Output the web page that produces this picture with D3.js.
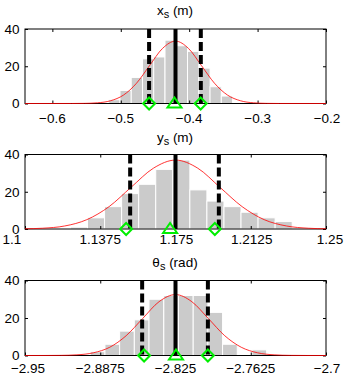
<!DOCTYPE html>
<html><head><meta charset="utf-8">
<script src="https://cdn.jsdelivr.net/npm/d3@7"></script>
<style>
html,body{margin:0;padding:0;background:#fff;}
svg{display:block;font-family:"Liberation Sans",Arial,Helvetica,sans-serif;}
</style></head>
<body><svg id="chart" width="345" height="378"></svg>
<script>
// ---------- data ----------
// panel 1: x_s (m)
const xsDomain = [-0.64, -0.2];
const xsTicks = [-0.6, -0.5, -0.4, -0.3, -0.2];
const xsTickLabels = ["−0.6", "−0.5", "−0.4", "−0.3", "−0.2"];
const xsBinCenters = [-0.5094, -0.4929, -0.4765, -0.4600, -0.4436, -0.4271, -0.4106, -0.3942, -0.3777, -0.3613, -0.3448];
const xsBinWidth = 0.01646;
const xsCounts = [2, 7, 14, 24, 25, 34, 31, 28, 19, 9, 4];
const xsCurveX = [-0.64, -0.572, -0.553, -0.534, -0.515, -0.496, -0.477, -0.458, -0.439, -0.42, -0.401, -0.382, -0.363, -0.344, -0.325, -0.306, -0.287, -0.268, -0.2];
const xsCurveY = [0, 0.01, 0.07, 0.37, 1.47, 4.53, 10.88, 20.32, 29.56, 33.5, 29.56, 20.32, 10.88, 4.53, 1.47, 0.37, 0.07, 0.01, 0];
const xsMean = -0.42;
const xsBounds = [-0.4586, -0.383];
const xsEstMean = -0.4215;
const xsEstBounds = [-0.4586, -0.3832];

// panel 2: y_s (m)
const ysDomain = [1.1, 1.25];
const ysTicks = [1.1, 1.1375, 1.175, 1.2125, 1.25];
const ysTickLabels = ["1.1", "1.1375", "1.175", "1.2125", "1.25"];
const ysBinCenters = [1.1269, 1.1354, 1.1439, 1.1524, 1.1609, 1.1694, 1.1779, 1.1864, 1.1949, 1.2034, 1.2119, 1.2204, 1.2289];
const ysBinWidth = 0.0085;
const ysCounts = [1, 6, 12, 19, 24, 32, 37, 21, 15, 12, 9, 6, 4];
const ysCurveX = [1.1, 1.1087, 1.1198, 1.1308, 1.1419, 1.1529, 1.164, 1.175, 1.1861, 1.1971, 1.2082, 1.2192, 1.2303, 1.2413, 1.25];
const ysCurveY = [0.12, 0.41, 1.62, 5.01, 12.01, 22.44, 32.65, 37, 32.65, 22.44, 12.01, 5.01, 1.62, 0.41, 0.12];
const ysMean = 1.175;
const ysBounds = [1.1524, 1.1966];
const ysEstMean = 1.1723;
const ysEstBounds = [1.1504, 1.1946];

// panel 3: theta_s (rad)
const tsDomain = [-2.95, -2.7];
const tsTicks = [-2.95, -2.8875, -2.825, -2.7625, -2.7];
const tsTickLabels = ["−2.95", "−2.8875", "−2.825", "−2.7625", "−2.7"];
const tsBinCenters = [-2.8897, -2.8775, -2.8653, -2.8531, -2.8409, -2.8286, -2.8164, -2.8042, -2.7920, -2.7798, -2.7676, -2.7554];
const tsBinWidth = 0.01221;
const tsCounts = [2, 6, 13, 19, 30, 32, 32, 32, 23, 6, 0, 3];
const tsCurveX = [-2.95, -2.9342, -2.9206, -2.9069, -2.8933, -2.8796, -2.866, -2.8523, -2.8387, -2.825, -2.8114, -2.7977, -2.7841, -2.7704, -2.7568, -2.7431, -2.7295, -2.7158, -2.7];
const tsCurveY = [0, 0.01, 0.07, 0.36, 1.43, 4.40, 10.55, 19.71, 28.68, 32.5, 28.68, 19.71, 10.55, 4.40, 1.43, 0.36, 0.07, 0.01, 0];
const tsMean = -2.825;
const tsBounds = [-2.8527, -2.7981];
const tsEstMean = -2.8246;
const tsEstBounds = [-2.8511, -2.7981];

const yTicks = [0, 20, 40];
const yDomain = [0, 40];

// ---------- layout ----------
const svg = d3.select("#chart");
const L = 25, R = 326;
const FS = 13.5;
const panels = [
  {title: ["x", "s", " (m)"], top: 29, h: 74.5, titleY: 14.5, labelY: 122.5, labelDx: [0, 0, 0, 0, 1],
   domain: xsDomain, ticks: xsTicks, tickLabels: xsTickLabels, centers: xsBinCenters, bw: xsBinWidth, counts: xsCounts,
   cx: xsCurveX, cy: xsCurveY, mean: xsMean, bounds: xsBounds, estMean: xsEstMean, estBounds: xsEstBounds},
  {title: ["y", "s", " (m)"], top: 154.5, h: 74.5, titleY: 141.5, labelY: 244, labelDx: [-13, 0, 1, 1, 4],
   domain: ysDomain, ticks: ysTicks, tickLabels: ysTickLabels, centers: ysBinCenters, bw: ysBinWidth, counts: ysCounts,
   cx: ysCurveX, cy: ysCurveY, mean: ysMean, bounds: ysBounds, estMean: ysEstMean, estBounds: ysEstBounds},
  {title: ["θ", "s", " (rad)"], top: 280.5, h: 75, titleY: 266.5, labelY: 373, labelDx: [3, 0, 0, 0, 1],
   domain: tsDomain, ticks: tsTicks, tickLabels: tsTickLabels, centers: tsBinCenters, bw: tsBinWidth, counts: tsCounts,
   cx: tsCurveX, cy: tsCurveY, mean: tsMean, bounds: tsBounds, estMean: tsEstMean, estBounds: tsEstBounds}
];

const green = "#00ee00";

panels.forEach(p => {
  const x = d3.scaleLinear().domain(p.domain).range([L, R]);
  const y = d3.scaleLinear().domain(yDomain).range([p.top + p.h, p.top]);
  const g = svg.append("g");

  // bars
  g.selectAll("rect.bar").data(p.counts.map((c, i) => ({c, m: p.centers[i]})).filter(d => d.c > 0))
    .enter().append("rect")
    .attr("x", d => x(d.m - p.bw / 2))
    .attr("width", d => x(d.m + p.bw / 2) - x(d.m - p.bw / 2))
    .attr("y", d => y(d.c))
    .attr("height", d => y(0) - y(d.c))
    .attr("fill", "#cbcbcb")
    .attr("stroke", "#ffffff")
    .attr("stroke-width", 1);

  // axes box
  g.append("rect").attr("x", L).attr("y", p.top).attr("width", R - L).attr("height", p.h)
    .attr("fill", "none").attr("stroke", "#000").attr("stroke-width", 1);

  // x axis (ticks inside, bottom and top)
  const xb = g.append("g").attr("transform", `translate(0,${p.top + p.h})`)
    .call(d3.axisBottom(x).tickValues(p.ticks).tickSize(-3).tickFormat(""));
  xb.select(".domain").remove();
  const xt = g.append("g").attr("transform", `translate(0,${p.top})`)
    .call(d3.axisTop(x).tickValues(p.ticks).tickSize(-3).tickFormat(""));
  xt.select(".domain").remove();
  // x tick labels
  g.selectAll("text.xl").data(p.ticks).enter().append("text")
    .attr("x", (d, i) => x(d) + p.labelDx[i]).attr("y", p.labelY)
    .attr("text-anchor", "middle").attr("font-size", FS).attr("fill", "#000")
    .text((d, i) => p.tickLabels[i]);

  // y axis
  const yl = g.append("g").attr("transform", `translate(${L},0)`)
    .call(d3.axisLeft(y).tickValues(yTicks).tickSize(-3).tickFormat(""));
  yl.select(".domain").remove();
  const yr = g.append("g").attr("transform", `translate(${R},0)`)
    .call(d3.axisRight(y).tickValues(yTicks).tickSize(-3).tickFormat(""));
  yr.select(".domain").remove();
  g.selectAll("text.yl").data(yTicks).enter().append("text")
    .attr("x", L - 5.5).attr("y", d => y(d) + 4.8)
    .attr("text-anchor", "end").attr("font-size", FS).attr("fill", "#000")
    .text(d => d);

  // fitted curve
  const line = d3.line().x(d => x(d[0])).y(d => y(d[1])).curve(d3.curveMonotoneX);
  g.append("path").datum(p.cx.map((v, i) => [v, p.cy[i]]))
    .attr("d", line).attr("fill", "none").attr("stroke", "#ff0000").attr("stroke-width", 0.8);

  // mean line
  g.append("line").attr("x1", x(p.mean)).attr("x2", x(p.mean))
    .attr("y1", y(40)).attr("y2", y(0))
    .attr("stroke", "#000").attr("stroke-width", 4);
  // bound lines
  p.bounds.forEach(b => {
    g.append("line").attr("x1", x(b)).attr("x2", x(b))
      .attr("y1", y(40)).attr("y2", y(0))
      .attr("stroke", "#000").attr("stroke-width", 4)
      .attr("stroke-dasharray", "9,4");
  });

  // markers
  p.estBounds.forEach(b => {
    g.append("path").attr("transform", `translate(${x(b)},${y(0)})`)
      .attr("d", "M0,-6 L6,0 L0,6 L-6,0 Z")
      .attr("fill", "none").attr("stroke", green).attr("stroke-width", 2);
  });
  g.append("path").attr("transform", `translate(${x(p.estMean)},${y(0)})`)
    .attr("d", "M0,-6 L7,4 L-7,4 Z")
    .attr("fill", "none").attr("stroke", green).attr("stroke-width", 2);

  // title
  const t = svg.append("text").attr("x", 175).attr("y", p.titleY)
    .attr("text-anchor", "middle").attr("font-size", FS).attr("fill", "#000");
  t.append("tspan").text(p.title[0]);
  t.append("tspan").attr("dy", 3.5).attr("font-size", 11).text(p.title[1]);
  t.append("tspan").attr("dy", -3.5).text(p.title[2]);
});
</script>
</body></html>
